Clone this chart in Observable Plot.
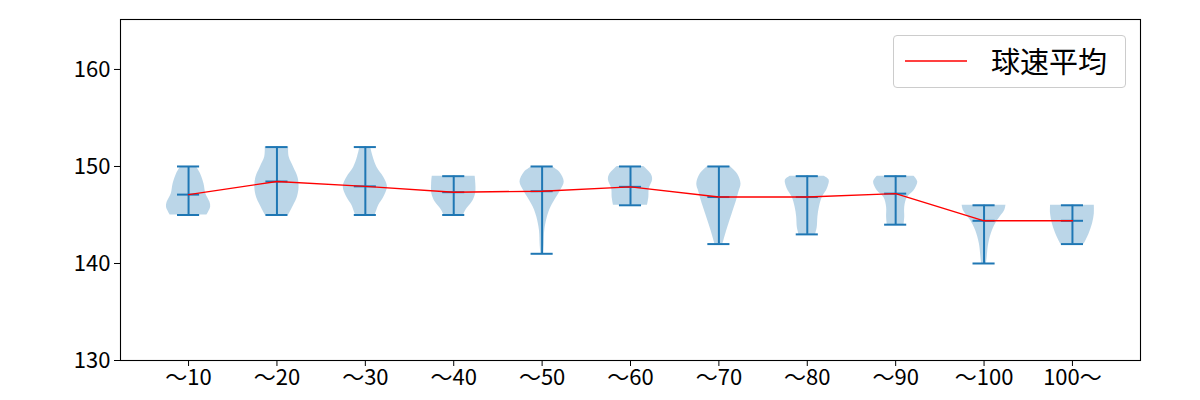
<!DOCTYPE html>
<html>
<head>
<meta charset="utf-8">
<script src="https://cdn.jsdelivr.net/npm/d3@7"></script>
<script src="https://cdn.jsdelivr.net/npm/@observablehq/plot@0.6"></script>
<style>
  body { margin: 0; background: #fff; }
  #wrap { position: relative; width: 1200px; height: 400px; font-family: "Noto Sans CJK JP", "Noto Sans", sans-serif; }
  #legend { position: absolute; left: 893px; top: 35px; width: 233px; height: 53px; border: 1px solid #cccccc; border-radius: 4px; background: rgba(255,255,255,0.8); box-sizing: border-box; }
  #legend svg { position: absolute; left: 10px; top: 23px; }
  #legend span { position: absolute; left: 97px; top: 4px; font-size: 29px; line-height: 40px; color: #000; white-space: nowrap; }
</style>
</head>
<body>
<div id="wrap"></div>
<script>
const categories = ["～10", "～20", "～30", "～40", "～50", "～60", "～70", "～80", "～90", "～100", "100～"];
const means = [147.1, 148.45, 147.95, 147.35, 147.45, 147.9, 146.85, 146.85, 147.2, 144.4, 144.4];
const mins = [145, 145, 145, 145, 141, 146, 142, 143, 144, 140, 142];
const maxes = [150, 152, 152, 149, 150, 150, 150, 149, 149, 146, 146];
// relative violin half-width (0..1) at speed values
const profiles = [
  [[150, 0.35], [149.3, 0.53], [148.2, 0.70], [147.2, 0.78], [146.3, 0.97], [145.8, 1.0], [145.5, 0.95], [145, 0.83]],
  [[152, 0.53], [151, 0.55], [149.9, 0.76], [148.9, 0.95], [147.8, 1.0], [146.8, 0.92], [146, 0.76], [145, 0.53]],
  [[152, 0.24], [151, 0.35], [149.9, 0.53], [148.9, 0.83], [147.9, 1.0], [146.8, 0.83], [146, 0.61], [145, 0.45]],
  [[149, 0.97], [148.2, 1.0], [147.2, 0.99], [146.3, 0.83], [145.5, 0.55], [145, 0.45]],
  [[150, 0.45], [149.4, 0.80], [148.4, 1.0], [147.5, 0.83], [146.8, 0.65], [145.8, 0.40], [144.8, 0.24], [143.4, 0.12], [142, 0.09], [141, 0.06]],
  [[150, 0.60], [149.2, 0.94], [148.6, 1.0], [147.7, 0.85], [146.8, 0.83], [146, 0.77]],
  [[150, 0.51], [149.2, 0.85], [148.2, 1.0], [147.4, 0.91], [146.5, 0.80], [145.1, 0.60], [143.7, 0.40], [142.4, 0.23], [142, 0.18]],
  [[149, 0.76], [148.6, 0.99], [147.7, 0.91], [146.8, 0.68], [145.8, 0.55], [144.8, 0.48], [143.7, 0.45], [143, 0.38]],
  [[149, 0.83], [148.4, 1.0], [147.5, 0.83], [146.8, 0.53], [145.8, 0.41], [144.8, 0.41], [144, 0.38]],
  [[146, 0.99], [145.5, 0.94], [144.4, 0.60], [143.4, 0.38], [142, 0.21], [140.6, 0.14], [140, 0.11]],
  [[146, 0.99], [145.1, 0.99], [144.1, 0.91], [143.1, 0.76], [142, 0.53]]
];
const yTicks = [130, 140, 150, 160];
const seriesName = "球速平均";

const blue = "#1f77b4";
const stats = categories.map((c, i) => ({cat: c, pos: i + 1, mean: means[i], min: mins[i], max: maxes[i]}));
const bodies = profiles.flatMap((p, i) => p.map(([v, w]) => ({cat: categories[i], pos: i + 1, v, w})));
const halfW = 0.25, capW = 0.125;

const chart = Plot.plot({
  width: 1200,
  height: 400,
  marginLeft: 120,
  marginRight: 60,
  marginTop: 19,
  marginBottom: 40,
  style: {fontFamily: '"Noto Sans CJK JP", "Noto Sans", sans-serif', fontSize: "17px", color: "#000", background: "#fff"},
  x: {domain: [0.23, 11.77]},
  y: {domain: [130, 165.15]},
  marks: [
    Plot.areaX(bodies, {y: "v", x1: d => d.pos - halfW * d.w, x2: d => d.pos + halfW * d.w, z: "cat", fill: blue, fillOpacity: 0.3, curve: "catmull-rom"}),
    Plot.ruleX(stats, {x: "pos", y1: "min", y2: "max", stroke: blue, strokeWidth: 2}),
    Plot.ruleY(stats, {y: "min", x1: d => d.pos - capW, x2: d => d.pos + capW, stroke: blue, strokeWidth: 2}),
    Plot.ruleY(stats, {y: "max", x1: d => d.pos - capW, x2: d => d.pos + capW, stroke: blue, strokeWidth: 2}),
    Plot.ruleY(stats, {y: "mean", x1: d => d.pos - capW, x2: d => d.pos + capW, stroke: blue, strokeWidth: 2}),
    Plot.line(stats, {x: "pos", y: "mean", stroke: "red", strokeWidth: 1.4}),
    Plot.axisX({ticks: stats.map(d => d.pos), tickFormat: d => categories[d - 1], tickSize: 6, tickPadding: 3, label: null, fontSize: 22}),
    Plot.axisY({ticks: yTicks, tickSize: 6, tickPadding: 4, label: null, fontSize: 22}),
    Plot.frame({stroke: "#000", strokeWidth: 1.1})
  ]
});
const wrap = document.getElementById("wrap");
wrap.appendChild(chart);
const lg = document.createElement("div");
lg.id = "legend";
lg.innerHTML = `<svg width="64" height="4"><line x1="1" x2="63" y1="2" y2="2" stroke="red" stroke-width="1.4"/></svg><span></span>`;
lg.querySelector("span").textContent = seriesName;
wrap.appendChild(lg);
</script>
</body>
</html>
